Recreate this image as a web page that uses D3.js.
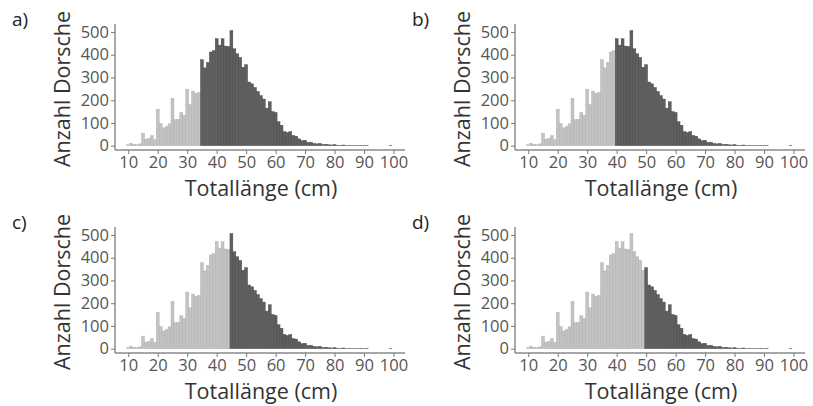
<!DOCTYPE html>
<html>
<head>
<meta charset="utf-8">
<script src="https://cdn.jsdelivr.net/npm/d3@7"></script>
<style>
  html, body { margin: 0; padding: 0; background: #ffffff; }
  svg { display: block; }
</style>
</head>
<body>
<svg id="chart" width="813" height="406"></svg>
<script>
// ---- data ----
const lengthsCm = [10,11,12,13,14,15,16,17,18,19,20,21,22,23,24,25,26,27,28,29,30,
  31,32,33,34,35,36,37,38,39,40,41,42,43,44,45,46,47,48,49,50,
  51,52,53,54,55,56,57,58,59,60,61,62,63,64,65,66,67,68,69,70,
  71,72,73,74,75,76,77,78,79,80,81,82,83,84,85,86,87,88,89,90,
  91,92,93,94,95,96,97,98,99,100];
const counts = [4,10,5,4,8,55,28,32,44,26,160,97,78,84,96,208,114,116,146,134,249,
  180,240,230,234,378,342,366,412,418,471,442,470,438,436,506,426,404,388,345,356,
  280,272,256,238,220,205,165,193,150,146,105,90,62,58,62,45,42,30,22,24,
  14,15,10,8,10,5,6,4,3,5,2,2,3,1,2,1,2,1,2,1,
  2,0,0,0,0,0,0,0,2,0];
const panelLabels = ["a)", "b)", "c)", "d)"];
const thresholds = [35, 40, 45, 50];
const xTicks = [10,20,30,40,50,60,70,80,90,100];
const yTicks = [0,100,200,300,400,500];
const xTitle = "Totallänge (cm)";
const yTitle = "Anzahl Dorsche";

// ---- layout ----
const svg = d3.select("#chart");
const FONT = "'Open Sans', 'Noto Sans', sans-serif";
const offsets = [[0,0],[400,0],[0,203],[400,203]];
const pLeft = 115, pRight = 405, pTop = 24, pBottom = 150;

const x = d3.scaleLinear().domain([5.5, 103.9]).range([pLeft, pRight]);
const y = d3.scaleLinear().domain([-19, 535]).range([pBottom, pTop]);
const bw = x(1) - x(0);

const data = lengthsCm.map((c, i) => ({ cm: c, n: counts[i] }));

panelLabels.forEach((lab, p) => {
  const g = svg.append("g").attr("transform", `translate(${offsets[p][0]},${offsets[p][1]})`);
  const thr = thresholds[p];

  // bars
  g.append("g").selectAll("rect").data(data.filter(d => d.n > 0)).join("rect")
    .attr("x", d => x(d.cm - 0.5))
    .attr("width", bw)
    .attr("y", d => y(d.n))
    .attr("height", d => y(0) - y(d.n))
    .attr("fill", d => d.cm >= thr ? "#5f5f5f" : "#c3c3c3")
    .attr("stroke", d => d.cm >= thr ? "#444444" : "#ababab")
    .attr("stroke-width", 0.4);

  // y axis
  const ya = g.append("g").attr("transform", `translate(${pLeft},0)`)
    .call(d3.axisLeft(y).tickValues(yTicks).tickSize(4).tickPadding(2).tickSizeOuter(0));
  ya.select(".domain").attr("stroke", "#7a7a7a").attr("stroke-width", 1.3)
    .attr("d", `M0,${pTop}V${pBottom}`);
  ya.selectAll(".tick line").attr("stroke", "#7a7a7a").attr("stroke-width", 1);
  ya.selectAll(".tick text").attr("fill", "#555555").attr("font-size", 16.5)
    .attr("font-family", FONT);

  // x axis
  const xa = g.append("g").attr("transform", `translate(0,${pBottom})`)
    .call(d3.axisBottom(x).tickValues(xTicks).tickSize(4).tickPadding(2).tickSizeOuter(0));
  xa.select(".domain").attr("stroke", "#8a8a8a").attr("stroke-width", 1.6)
    .attr("d", `M${pLeft},0H${pRight}`);
  xa.selectAll(".tick line").attr("stroke", "#7a7a7a").attr("stroke-width", 1);
  xa.selectAll(".tick text").attr("fill", "#555555").attr("font-size", 16.5)
    .attr("font-family", FONT);

  // titles
  g.append("text")
    .attr("transform", `translate(70,${(pTop + pBottom) / 2 + 2}) rotate(-90)`)
    .attr("text-anchor", "middle")
    .attr("font-family", FONT).attr("font-size", 21.5).attr("fill", "#333333")
    .text(yTitle);
  g.append("text")
    .attr("x", 261).attr("y", 196)
    .attr("text-anchor", "middle")
    .attr("font-family", FONT).attr("font-size", 21.5).attr("fill", "#333333")
    .text(xTitle);

  // panel label
  g.append("text")
    .attr("x", 12).attr("y", 26)
    .attr("font-family", FONT).attr("font-size", 19).attr("fill", "#222222")
    .text(lab);
});
</script>
</body>
</html>
